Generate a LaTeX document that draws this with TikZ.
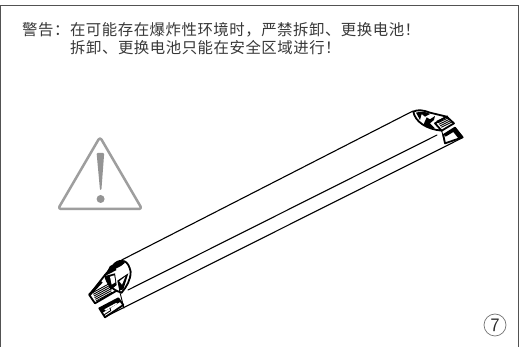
\documentclass[tikz,border=0pt]{standalone}
\usepackage{fontspec}
\newfontfamily\cjk[LetterSpace=3.5]{Noto Sans CJK SC}
\tikzset{
  frameline/.style={draw=black!68,line width=1.1pt},
  tube/.style={draw=black,line width=1.1pt,line cap=round},
  bold/.style={draw=black,line width=1.8pt,line join=round,line cap=round},
  thin/.style={draw=black,line width=.9pt},
  warn/.style={draw=black!38,line width=2.5pt,line join=round,rounded corners=3pt},
  warnfill/.style={fill=black!42},
  msg/.style={anchor=base west,inner sep=0pt,text=black!78,font=\cjk\fontsize{15.4}{16}\selectfont}
}
\begin{document}
\begin{tikzpicture}[x=1pt,y=-1pt]
\useasboundingbox (0,0) rectangle (520,347);
\fill[white] (0,0) rectangle (520,347);
% frame
\draw[frameline] (.7,347) -- (.7,5.7) -- (518.4,5.7) -- (518.4,347);
% text
\node[msg] (a) at (22,35.5) {警告：在可能存在爆炸性环境时，严禁拆卸、更换电池！};
\node[msg] (b) at (70,54) {拆卸、更换电池只能在安全区域进行！};
% warning sign
\draw[warn] (100,137) -- (58,209) -- (142,209) -- cycle;
\fill[warnfill,rounded corners=1pt] (96.6,153) -- (104.2,153) -- (101.4,190) -- (100,190) -- cycle;
\fill[warnfill] (100.6,199) circle (4);
% tube body
\draw[tube] (121.7,260) -- (413,111);
\draw[tube] (128,290) -- (437,135);
\draw[tube] (105,317) -- (462,138);
% left end
\begin{scope}[shift={(60,240)},x=.3333pt,y=-.3333pt]
% oval pattern
\fill[black] (150,78) -- (185,62) -- (195,68) -- (170,90) -- (135,108) -- cycle;
\fill[white] (168,86) -- (190,75) -- (197,94) -- (175,104) -- cycle;
\fill[black] (135,108) -- (165,100) -- (170,135) -- (152,150) -- cycle;
\fill[white] (150,110) -- (163,106) -- (166,127) -- (155,134) -- cycle;
\fill[black] (172,122) -- (205,100) -- (190,148) -- (178,152) -- cycle;
\fill[white] (178,124) -- (196,110) -- (186,134) -- cycle;
\draw[bold] (135,105) -- (165,70) .. controls (185,55) and (205,60) .. (212,95) .. controls (212,120) and (200,140) .. (185,158);
\draw[bold] (135,105) .. controls (140,130) and (155,150) .. (185,158);
% hatched block
\draw[bold] (88,165) -- (135,105);
\draw[bold] (88,165) -- (105,190) -- (170,152);
\draw[line width=2.6pt] (88,165) -- (125,125);
\foreach \d in {0,1,2,3,4,5}{\draw[thin] (98+\d*2,158+\d*5) -- (146+\d*2,132+\d*5);}
% lower block
\fill[black] (118,205) -- (175,175) -- (182,185) -- (128,218) -- cycle;
\fill[white] (133,208) -- (168,189) -- (172,191) -- (137,212) -- cycle;
\draw[bold] (118,205) -- (135,232) -- (190,195) -- (175,175) -- cycle;
\draw[thin] (133,224) -- (152,212) -- (150,203);
\draw[thin] (178,150) -- (192,205);
\end{scope}
% right end
\begin{scope}[shift={(380,90)},x=.3333pt,y=-.3333pt]
\fill[black] (108,68) .. controls (125,62) and (140,66) .. (150,72) -- (135,80) -- (125,72) -- (120,90) -- cycle;
\fill[black] (130,105) -- (140,82) -- (150,88) -- (165,78) -- (162,90) -- (150,100) -- (165,115) -- (150,113) -- cycle;
\draw[bold] (100,65) .. controls (112,58) and (130,60) .. (150,68) -- (200,80) -- (222,100) -- (185,122);
\draw[bold] (100,65) .. controls (105,95) and (140,118) .. (185,122) -- (165,100) -- (200,80);
\foreach \d in {0,1,2,3,4}{\draw[thin] (170+\d*3.5,94+\d*4.5) -- (204+\d*3,78+\d*4.5);}
\fill[black] (192,133) -- (225,113) -- (248,142) -- (236,146) -- (220,126) -- (197,140) -- cycle;
\draw[bold] (190,135) -- (225,113) -- (248,142) -- (195,160) -- cycle;
\draw[thin] (185,122) -- (195,160);
\end{scope}
% circled number
\draw[draw=black!55,line width=.7pt] (495,325) circle (11);
\node[anchor=center,inner sep=0pt,text=black!85,font=\fontsize{19}{19}\selectfont\sffamily] (n) at (495,325) {7};
\end{tikzpicture}
\end{document}
